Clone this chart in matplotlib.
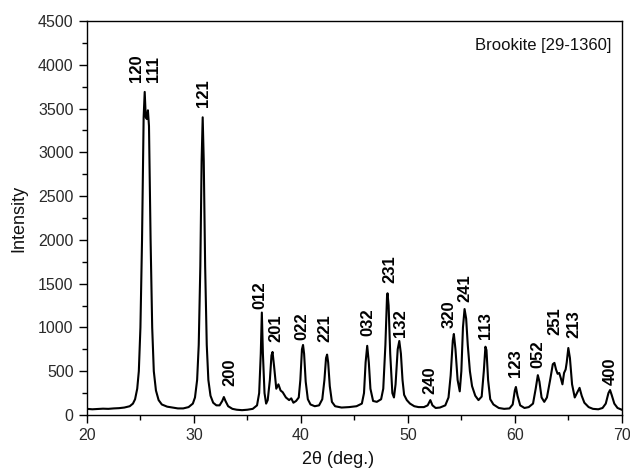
import matplotlib
matplotlib.use("Agg")
import matplotlib.pyplot as plt
from matplotlib.ticker import MultipleLocator

plt.rcParams['font.family'] = ['Liberation Sans', 'DejaVu Sans']

# XRD pattern, points
two_theta = [20.0, 20.5, 21.0, 21.5, 22.0, 22.5, 23.0, 23.5, 24.0, 24.3, 24.5, 24.7, 24.85,
             25.0, 25.15, 25.3, 25.4, 25.5, 25.6, 25.7, 25.8, 25.95, 26.1, 26.25, 26.45,
             26.7, 27.0, 27.5, 28.0, 28.5, 29.0, 29.5, 29.9, 30.1, 30.3, 30.45, 30.6, 30.72,
             30.82, 30.92, 31.05, 31.2, 31.35, 31.55, 31.8, 32.1, 32.4, 32.65, 32.8, 32.95,
             33.2, 33.6, 34.0, 34.5, 35.0, 35.5, 35.9, 36.1, 36.25, 36.35, 36.45, 36.6, 36.75,
             36.9, 37.1, 37.25, 37.35, 37.5, 37.7, 37.9, 38.1, 38.3, 38.6, 38.9, 39.1, 39.3,
             39.55, 39.8, 39.95, 40.1, 40.2, 40.3, 40.45, 40.65, 40.9, 41.3, 41.7, 42.0, 42.2,
             42.35, 42.45, 42.55, 42.7, 42.9, 43.2, 43.8, 44.5, 45.2, 45.7, 45.9, 46.05, 46.2,
             46.35, 46.5, 46.75, 47.1, 47.5, 47.7, 47.9, 48.05, 48.1, 48.2, 48.35, 48.55, 48.7,
             48.85, 49.05, 49.2, 49.35, 49.5, 49.65, 49.9, 50.2, 50.6, 51.0, 51.5, 51.85, 52.1,
             52.3, 52.6, 53.0, 53.5, 53.8, 54.0, 54.2, 54.3, 54.45, 54.65, 54.85, 55.0, 55.15,
             55.3, 55.45, 55.6, 55.8, 56.0, 56.3, 56.6, 56.9, 57.1, 57.25, 57.35, 57.5, 57.7,
             58.0, 58.5, 59.0, 59.5, 59.8, 60.0, 60.1, 60.25, 60.5, 60.9, 61.3, 61.7, 61.95,
             62.15, 62.3, 62.5, 62.75, 63.0, 63.3, 63.55, 63.7, 63.85, 64.0, 64.15, 64.3, 64.45,
             64.6, 64.75, 64.85, 65.0, 65.15, 65.35, 65.6, 65.85, 66.05, 66.25, 66.5, 66.9,
             67.3, 67.8, 68.2, 68.5, 68.75, 68.9, 69.05, 69.3, 69.6, 70.0]
intensity = [70, 65, 68, 72, 70, 75, 78, 85, 100, 130, 180, 300, 500,
             1000, 2000, 3400, 3690, 3400, 3380, 3480, 3300, 2000, 1000, 500, 280,
             170, 120, 95, 85, 75, 75, 90, 130, 200, 400, 800, 1700, 2900,
             3400, 2900, 1700, 800, 400, 220, 140, 110, 110, 160, 205, 160,
             100, 70, 60, 55, 60, 70, 110, 250, 700, 1170, 700, 250, 130,
             170, 400, 680, 720, 550, 300, 350, 280, 260, 200, 170, 190, 140,
             160, 200, 400, 750, 800, 700, 380, 180, 120, 100, 110, 180, 400,
             650, 690, 600, 330, 150, 100, 85, 90, 100, 130, 250, 600, 790,
             600, 300, 160, 150, 180, 300, 800, 1350, 1390, 1250, 700, 250, 200,
             350, 750, 845, 700, 400, 230, 170, 130, 100, 90, 90, 110, 170,
             110, 80, 85, 110, 200, 450, 850, 925, 750, 400, 270, 500, 1000,
             1210, 1100, 800, 500, 330, 220, 170, 210, 500, 780, 740, 400, 180,
             120, 80, 70, 75, 120, 280, 320, 220, 110, 80, 90, 130, 300,
             455, 380, 200, 150, 200, 400, 580, 595, 520, 470, 480, 420, 350,
             480, 520, 600, 765, 650, 350, 200, 260, 310, 220, 140, 90,
             70, 65, 80, 130, 250, 285, 230, 130, 80, 60]

# Miller index labels: text, x and bottom y of the rotated text
hkl = ['120', '111', '121', '200', '012', '201', '022', '221', '032', '231',
       '132', '240', '320', '241', '113', '123', '052', '251', '213', '400']
hkl_x = [24.67, 26.26, 30.93, 33.36, 36.17, 37.66, 40.1, 42.24, 46.26, 48.3,
         49.35, 52.05, 53.83, 55.33, 57.29, 60.1, 62.15, 63.74, 65.5, 68.88]
hkl_y = [3800, 3800, 3517, 330, 1210, 835, 855, 835, 900, 1505,
         895, 240, 990, 1290, 870, 435, 535, 910, 880, 340]

fig = plt.figure(figsize=(6.3, 4.72), dpi=100)
ax = fig.add_axes([0.138, 0.1208, 0.849, 0.8347])

ax.plot(two_theta, intensity, color='black', lw=1.5)

for t, x, y in zip(hkl, hkl_x, hkl_y):
    ax.text(x, y, t, rotation=90, ha='center', va='bottom',
            fontsize=12, fontweight='bold', color='black')

ax.text(69.07, 4170, 'Brookite [29-1360]', ha='right', va='baseline',
        fontsize=12, color='#111111')

ax.set_xlim(20, 70)
ax.set_ylim(0, 4500)
ax.xaxis.set_major_locator(MultipleLocator(10))
ax.xaxis.set_minor_locator(MultipleLocator(5))
ax.yaxis.set_major_locator(MultipleLocator(500))
ax.yaxis.set_minor_locator(MultipleLocator(250))
ax.tick_params(which='major', direction='out', length=6, width=1,
               labelsize=11.5, labelcolor='#2a2a2a', top=False, right=False)
ax.tick_params(which='minor', direction='out', length=3.5, width=1,
               top=False, right=False)
for s in ax.spines.values():
    s.set_linewidth(1)

ax.set_xlabel('2θ (deg.)', fontsize=13, color='#111111')
ax.set_ylabel('Intensity', fontsize=13, color='#111111')
ax.xaxis.set_label_coords(0.469, -0.114)
ax.yaxis.set_label_coords(-0.127, 0.5)
ax.xaxis.label.set_va('center')
ax.yaxis.label.set_va('center')

fig.savefig('out.png', dpi=100)
